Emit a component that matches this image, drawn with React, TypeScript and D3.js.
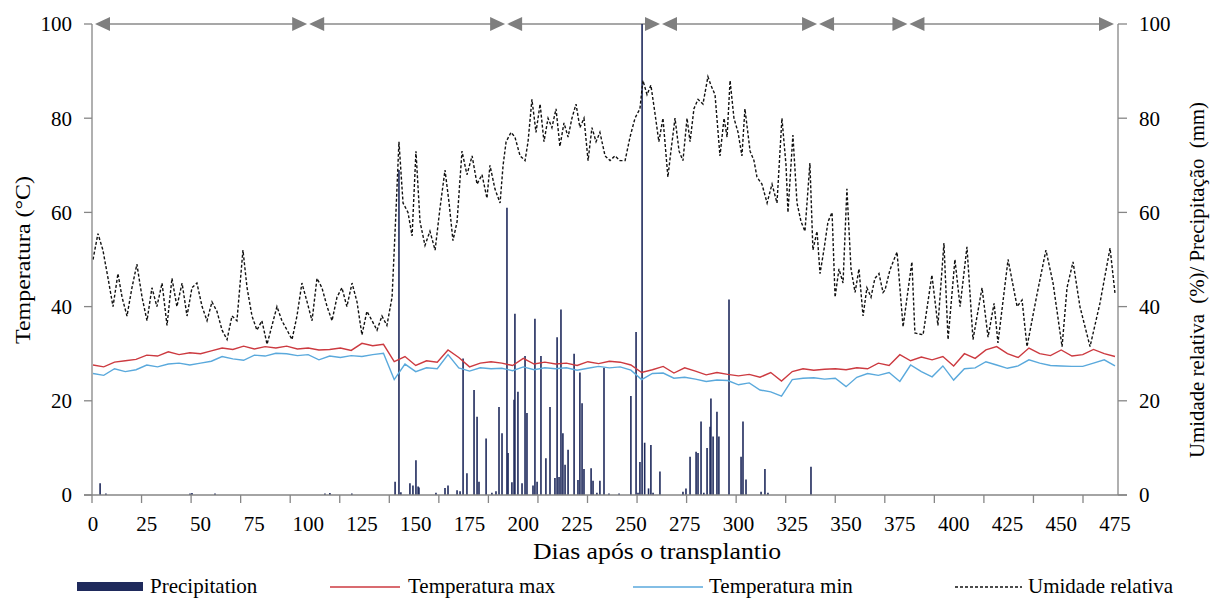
import * as d3 from 'd3';

// x tick labels (days after transplant)
const dayLabels = [0, 25, 50, 75, 100, 125, 150, 175, 200, 225, 250, 275, 300, 325, 350, 375, 400, 425, 450, 475];
const yTicks = [0, 20, 40, 60, 80, 100];

// growth stage boundaries (top arrows)
const stageBounds = [0, 100, 192, 264, 337, 379, 475];

// temperature, read every 5 days
const tempDays = d3.range(0, 476, 5);
const tMax = [27.6,27.2,28.2,28.5,28.8,29.7,29.5,30.4,29.8,30.2,
  30.0,30.6,31.2,30.9,31.6,31.0,31.5,31.2,31.6,31.0,
  31.2,30.8,30.9,31.2,30.7,32.2,31.7,32.0,28.3,29.4,
  27.5,28.5,28.2,30.8,29.2,27.2,28.0,28.3,28.0,27.5,
  29.0,27.8,28.2,27.8,28.0,27.5,28.3,27.9,28.4,28.2,
  27.6,26.0,26.6,27.3,25.9,27.0,26.3,25.5,26.0,25.6,
  25.3,25.6,25.0,26.0,24.2,26.2,26.8,26.5,26.7,26.8,
  26.6,27.0,26.8,28.0,27.5,29.8,28.5,29.3,28.7,29.4,
  27.4,30.0,29.0,30.8,31.5,30.0,29.2,31.2,30.0,29.6,
  30.8,29.5,29.8,30.9,30.0,29.4];
const tMin = [25.8,25.4,26.8,26.2,26.6,27.6,27.2,27.8,28.0,27.6,
  28.0,28.4,29.4,28.9,28.6,29.7,29.5,30.1,30.0,29.6,
  29.8,28.7,29.5,29.2,29.6,29.4,29.8,30.1,24.5,27.8,
  26.2,27.0,26.8,29.8,27.0,26.3,27.0,26.8,26.9,26.4,
  27.2,26.6,27.0,26.8,27.0,26.5,26.9,27.3,27.0,27.2,
  26.5,24.5,25.8,25.9,24.8,25.0,24.6,24.1,24.4,24.3,
  23.4,23.8,22.3,21.9,21.0,24.5,24.8,24.9,24.6,24.8,
  23.0,25.0,25.8,25.4,26.0,24.1,27.6,26.2,25.1,27.4,
  24.4,26.8,27.0,28.3,27.6,26.9,27.4,28.7,28.0,27.5,
  27.4,27.3,27.3,28.0,28.7,27.4];

// relative humidity [day, %]
const humidity: [number, number][] = [
  [0,50],[2.3,55.5],[4.6,52],[7,46],[9.3,40],[11.6,47],[13.5,42],[15.8,38],[18.1,44],[20.4,49],
  [22.8,42],[25.1,37],[27.4,44],[29.7,40],[32.1,45],[34.4,36],[36.7,46],[39,40],[41.4,45],[43.7,38],
  [46,44],[48.3,45],[50.7,40],[53,37],[55.3,41],[57.6,39],[60,35],[62.3,33],[64.6,38],[66.9,37],
  [69.7,52],[71.6,44],[73.9,38],[76.2,35],[78.5,37],[80.9,32],[83.2,36],[85.5,40],[87.8,37],[90.2,35],
  [92.5,33],[94.8,38],[97.1,45],[99.5,41],[101.8,37],[104.1,46],[106.4,44],[108.8,40],[111.1,37],[113.4,42],
  [115.7,44],[118,40],[120.4,45],[122.7,41],[125,34],[127.3,39],[129.7,37],[132,35],[134.3,38],[136.6,36],
  [139,42],[140.8,60],[142.2,75],[144.1,62],[146.4,60],[148.3,55],[150.1,73],[152,58],[154.3,53],[156.6,56],
  [159,52],[161.3,61],[163.6,69],[165.5,62],[167.3,54],[169.2,58],[171.5,73],[173.8,68],[176.2,72],[178.5,66],
  [180.8,68],[183.1,63],[184.5,70],[186.8,65],[189.2,62],[190.6,70],[192,75],[194.3,77],[196.1,76],[198.5,72],
  [200.8,71],[202.2,75],[204,84],[205.9,77],[207.8,83],[209.6,75],[211.5,80],[213.3,78],[215.2,82],[217,74],
  [218.9,79],[220.8,76],[222.6,80],[224.5,83],[226.3,78],[228.2,80],[230.1,71],[231.9,78],[233.8,75],[235.6,77],
  [238,72],[240.3,71],[242.6,72],[244.9,71],[247.3,71],[249.6,76],[251.9,80],[254.2,82],[255.6,88],[257.5,85],
  [259.3,87],[261.2,81],[263,75],[264.9,80],[267.2,67.5],[268.6,73],[270.5,80],[272.4,73],[274.2,71],[276.1,80],
  [277.5,75],[279.3,82],[281.2,84],[283.5,83],[285.8,88.8],[287.2,87],[289.1,85],[291.4,72],[293.3,80],[294.7,76],
  [296.1,88],[297.9,80],[299.8,77],[301.6,72],[303,82],[305.4,73],[307.2,71],[308.6,67.5],[310.9,66],[313.3,62],
  [315.6,66],[317.9,62],[320.2,80],[322.1,70],[323,60],[325.3,76.4],[327.2,62],[329.1,58],[330.9,56],[333.2,70.5],
  [334.6,52],[336.5,56],[337.9,47],[339.7,52],[341.6,58],[343.5,60],[344.9,42],[346.7,48],[348.6,45],[350.4,65],
  [352.3,48],[354.2,43],[356,48],[357.9,38],[359.7,44],[361.6,42],[363.4,46],[365.3,47],[367.2,43],[368.1,43.5],
  [370.4,47.8],[373.7,51.6],[376.5,35.7],[380.6,49.5],[382,34.4],[385.8,34],[389.9,46.7],[392.7,36],[395.5,53.5],[397.4,33],
  [400.6,50],[403,40],[406.2,52.7],[409,33],[413.2,44],[416,33.5],[418.8,40.7],[420.6,32.3],[425.3,50],[429.5,40],
  [431.8,41.4],[434.1,31.5],[438.7,42.5],[442.9,52],[446.2,45],[450.4,31.5],[452.7,44],[455.5,49.5],[458.7,40],[463.4,31.5],
  [468,40.7],[472.7,52.4],[475,42.8]
];

// precipitation [day, mm]
const precipitation: [number, number][] = [
  [3.3,2.5],[6,0.3],[45.1,0.3],[46,0.4],[56.7,0.3],[107.8,0.3],[110.1,0.4],[120.3,0.3],
  [140.4,2.8],[142.2,69],[143.1,0.6],[147.3,2.5],[148.7,2],[150.1,7.4],[151.1,1.8],[151.5,1.6],
  [159.4,0.5],[163.6,1.5],[165,2],[169.2,1],[170.6,0.8],[172,29],[173.8,4.6],[177.1,22.3],
  [178.5,16.6],[179.4,2.8],[182.7,12],[185.4,0.5],[187.3,0.8],[188.7,18.7],[190.1,13.1],[192.4,61],
  [192.9,8.9],[194.7,2.7],[195.7,20.2],[196.1,38.5],[197.5,21.9],[199.4,2.5],[200.8,29.5],[201.7,17.4],
  [204.5,2],[205.4,37.4],[206.4,2.8],[208.2,29.5],[210.5,7.8],[212.4,18.7],[214.7,3.6],[215.7,33.5],
  [216.6,3.8],[217.5,39.4],[218.4,13.1],[219.4,6.4],[220.8,9.6],[223.6,30],[225.4,3.2],[226.3,26],
  [227.3,19.5],[228.2,5.5],[231.5,5.7],[232.4,3],[234.2,0.5],[235.6,3],[237.5,27],[239.8,0.3],
  [244.5,0.3],[250,21],[252.4,34.6],[253.3,0.5],[254.2,7],[255.2,100],[256.4,11.1],[258.2,1.4],
  [259.3,10.6],[260.3,0.5],[263.5,5],[274.2,0.7],[275.6,1.4],[277.5,8.1],[280.3,9.2],[281.2,8.9],
  [282.6,15.6],[283.9,0.5],[285.4,10],[286.8,14.5],[287.2,20.5],[288.2,12.4],[290,17.7],[290.9,12.4],
  [295.6,41.5],[301.2,8.1],[302.1,15.6],[303.5,3.3],[310.5,0.7],[312.3,5.5],[313.7,0.5],[333.7,6]
];

const W = 1210, H = 599;
const plotLeft = 92, plotRight = 1118, plotTop = 24, plotBottom = 495;
const tickStep = 49.55;
const font = 'Liberation Serif, DejaVu Serif, serif';
const axisColor = '#868686';
const maxColor = '#cc3a40';
const minColor = '#5aa9dc';
const rainColor = '#1f2a5c';

export default function App() {
  const x = d3.scaleLinear().domain([0, 475]).range([93, 1115]);
  const y = d3.scaleLinear().domain([0, 100]).range([plotBottom, plotTop]);

  const line = d3.line<[number, number]>().x(d => x(d[0])).y(d => y(d[1]));
  const maxPts = tempDays.map((d, i) => [d, tMax[i]] as [number, number]);
  const minPts = tempDays.map((d, i) => [d, tMin[i]] as [number, number]);
  const tickXs = d3.range(21).map(i => plotLeft + i * tickStep);

  const arrow = (tipX: number, dir: number) => {
    const len = 15, half = 7;
    return `M${tipX},${plotTop} L${tipX - dir * len},${plotTop - half} L${tipX - dir * len},${plotTop + half} Z`;
  };

  return (
    <svg width={W} height={H} style={{ position: 'absolute', left: 0, top: 0, background: '#fff', fontFamily: font }}>
      {/* stage arrows */}
      {stageBounds.slice(0, -1).map((b, i) => {
        const x0 = x(b) + (i === 0 ? 2 : 1), x1 = x(stageBounds[i + 1]) - 1;
        return (
          <g key={'st' + i} fill="#7f7f7f">
            <line x1={x0 + 10} x2={x1 - 10} y1={plotTop} y2={plotTop} stroke="#8a8a8a" strokeWidth={1.5} />
            <path d={arrow(x0, -1)} />
            <path d={arrow(x1, 1)} />
          </g>
        );
      })}

      {/* precipitation bars */}
      {precipitation.map((p, i) => (
        <line key={'p' + i} x1={x(p[0])} x2={x(p[0])} y1={y(0)} y2={y(p[1])}
          stroke={rainColor} strokeWidth={1.6} />
      ))}

      {/* temperature */}
      <path d={line(minPts) ?? ''} fill="none" stroke={minColor} strokeWidth={1.4} />
      <path d={line(maxPts) ?? ''} fill="none" stroke={maxColor} strokeWidth={1.4} />

      {/* humidity */}
      <path d={line(humidity) ?? ''} fill="none" stroke="#111" strokeWidth={1.4} strokeDasharray="3,2" />

      {/* axes */}
      <g stroke={axisColor} strokeWidth={1.3}>
        <line x1={plotLeft} x2={plotLeft} y1={plotTop} y2={plotBottom} />
        <line x1={plotRight} x2={plotRight} y1={plotTop} y2={plotBottom} />
        <line x1={plotLeft - 8} x2={plotRight + 9} y1={plotBottom} y2={plotBottom} />
        {yTicks.map(t => (
          <g key={'yt' + t}>
            <line x1={plotLeft - 8} x2={plotLeft} y1={y(t)} y2={y(t)} />
            <line x1={plotRight} x2={plotRight + 9} y1={y(t)} y2={y(t)} />
          </g>
        ))}
        {tickXs.map((tx, i) => (
          <line key={'xt' + i} x1={tx} x2={tx} y1={plotBottom} y2={plotBottom + 8} />
        ))}
      </g>

      {/* tick labels */}
      <g fontSize={21} fill="#000">
        {yTicks.map(t => (
          <text key={'yl' + t} x={72} y={y(t)} dy="0.35em" textAnchor="end">{t}</text>
        ))}
        {yTicks.map(t => (
          <text key={'yr' + t} x={1139} y={y(t)} dy="0.35em" textAnchor="start">{t}</text>
        ))}
        {dayLabels.map(d => (
          <text key={'xl' + d} x={x(d)} y={531} textAnchor="middle">{d}</text>
        ))}
      </g>

      {/* axis titles */}
      <text x={657} y={559} fontSize={23} textAnchor="middle" textLength={248} lengthAdjust="spacingAndGlyphs">Dias após o transplantio</text>
      <text transform={`translate(30,260) rotate(-90)`} fontSize={22} textAnchor="middle" textLength={168} lengthAdjust="spacingAndGlyphs">Temperatura (°C)</text>
      <text transform={`translate(1204,280) rotate(-90)`} fontSize={22} textAnchor="middle"
        textLength={356} lengthAdjust="spacingAndGlyphs"
        style={{ whiteSpace: 'pre' }}>Umidade relativa  (%)/ Precipitação  (mm)</text>

      {/* legend */}
      <g fontSize={21}>
        <rect x={77} y={582} width={66} height={9} fill={rainColor} />
        <text x={150} y={593}>Precipitation</text>
        <line x1={330} x2={400} y1={587} y2={587} stroke={maxColor} strokeWidth={1.5} />
        <text x={408} y={593}>Temperatura max</text>
        <line x1={633} x2={703} y1={587} y2={587} stroke={minColor} strokeWidth={1.5} />
        <text x={709} y={593}>Temperatura min</text>
        <line x1={955} x2={1022} y1={587} y2={587} stroke="#111" strokeWidth={1.3} strokeDasharray="3,2" />
        <text x={1028} y={593}>Umidade relativa</text>
      </g>
    </svg>
  );
}
